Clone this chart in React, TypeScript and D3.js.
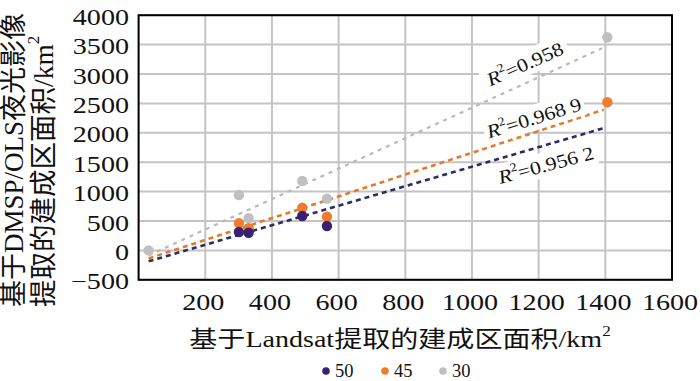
import React from "react";
import * as d3 from "d3";

// ---- data ----
const xTicks = [200, 400, 600, 800, 1000, 1200, 1400, 1600];
const yTicks = [-500, 0, 500, 1000, 1500, 2000, 2500, 3000, 3500, 4000];
const seriesNames = ["50", "45", "30"];
const seriesColors = ["#3b2173", "#ee7d30", "#c0c0c0"];
const lineColors = ["#2e2a66", "#e5792d", "#b9b9b9"];
const points50: [number, number][] = [[301, 312], [330, 300], [491, 585], [565, 415]];
const points45: [number, number][] = [[301, 461], [330, 376], [491, 726], [565, 573], [1406, 2519]];
const points30: [number, number][] = [[30, 0], [301, 942], [330, 546], [491, 1180], [565, 880], [1406, 3624]];
const trendSlopes = [1.66, 1.852, 2.59];
const trendIntercepts = [-236, -192, -163];
const trendStart = [30, 30, 30];
const trendEnd = [1395, 1395, 1390];
const r2Labels = ["0.956 2", "0.968 9", "0.958"];

const W = 700, H = 381;
const x = d3.scaleLinear().domain([0, 1600]).range([138.6, 672]);
const y = d3.scaleLinear().domain([-500, 4000]).range([279.8, 15.2]);
const serif = "'Liberation Serif', 'Times New Roman', 'Noto Sans CJK SC', serif";
const SX = 1.25;

export default function App() {
  const allPoints = [points50, points45, points30];
  const line = d3.line<[number, number]>().x(d => x(d[0])).y(d => y(d[1]));
  const labelPos = [
    { cx: 546, cy: 165, ang: -15, w: 104 },
    { cx: 534, cy: 118, ang: -17, w: 104 },
    { cx: 525, cy: 64, ang: -24, w: 92 },
  ];
  const legendX = [326, 385, 443];
  const drawOrder = [2, 1, 0];
  return (
    <svg width={W} height={H} style={{ position: "absolute", left: 0, top: 0, background: "#fff" }}>
      <rect x={0} y={0} width={W} height={H} fill="#fff" />
      {/* grid */}
      {xTicks.map(t => (
        <line key={"gx" + t} x1={x(t)} x2={x(t)} y1={y(4000)} y2={y(-500)} stroke="#c4c4c4" strokeWidth={2} />
      ))}
      {yTicks.map(t => (
        <line key={"gy" + t} x1={x(0)} x2={x(1600)} y1={y(t)} y2={y(t)} stroke="#c4c4c4" strokeWidth={2} />
      ))}
      {/* trend lines */}
      {drawOrder.map(i => {
        const pts: [number, number][] = [
          [trendStart[i], trendSlopes[i] * trendStart[i] + trendIntercepts[i]],
          [trendEnd[i], trendSlopes[i] * trendEnd[i] + trendIntercepts[i]],
        ];
        return (
          <path key={"t" + i} d={line(pts) || ""} fill="none" stroke={lineColors[i]}
            strokeWidth={i === 2 ? 2.2 : 2.6} strokeDasharray={i === 2 ? "4,5" : "5,4"} />
        );
      })}
      {/* R2 labels */}
      {labelPos.map((p, i) => (
        <g key={"r" + i} transform={`translate(${p.cx},${p.cy}) rotate(${p.ang})`}>
          <rect x={-p.w / 2} y={-13} width={p.w} height={25} fill="#fff" />
          <text transform="scale(1.15,1)" textAnchor="middle" dominantBaseline="central" fontFamily={serif} fontSize={19} fill="#111">
            <tspan fontStyle="italic">R</tspan>
            <tspan fontSize={12} dy={-7}>2</tspan>
            <tspan dy={7}>{"=" + r2Labels[i]}</tspan>
          </text>
        </g>
      ))}
      {/* points */}
      {drawOrder.map(i => (
        <g key={"p" + i}>
          {allPoints[i].map((d, j) => (
            <circle key={j} cx={x(d[0])} cy={y(d[1])} r={5.2} fill={seriesColors[i]} />
          ))}
        </g>
      ))}
      {/* frame */}
      <rect x={x(0)} y={y(4000)} width={x(1600) - x(0)} height={y(-500) - y(4000)} fill="none" stroke="#000" strokeWidth={2} />
      {/* y tick labels */}
      {yTicks.map(t => (
        <text key={"yl" + t} transform={`translate(129,${y(t) + 2}) scale(${SX},1)`} textAnchor="end"
          dominantBaseline="central" fontFamily={serif} fontSize={22.5} fill="#111">
          {t < 0 ? "\u2212" + Math.abs(t) : String(t)}
        </text>
      ))}
      {/* x tick labels */}
      {xTicks.map(t => (
        <text key={"xl" + t} transform={`translate(${x(t) - 2},${302}) scale(${SX},1)`} textAnchor="middle"
          dominantBaseline="central" fontFamily={serif} fontSize={22.5} fill="#111">
          {String(t)}
        </text>
      ))}
      {/* x title */}
      <text transform={`translate(400,339) scale(1.22,1)`} textAnchor="middle" dominantBaseline="central"
        fontFamily={serif} fontSize={23} fill="#111">
        基于Landsat提取的建成区面积/km<tspan fontSize={14} dy={-8}>2</tspan>
      </text>
      {/* y title */}
      <text transform="translate(14,307) rotate(-90)" textAnchor="start" dominantBaseline="central"
        fontFamily={serif} fontSize={27} fill="#111">
        基于DMSP/OLS夜光影像
      </text>
      <text transform="translate(43,307) rotate(-90)" textAnchor="start" dominantBaseline="central"
        fontFamily={serif} fontSize={27.5} fill="#111">
        提取的建成区面积/km<tspan fontSize={17} dy={-10}>2</tspan>
      </text>
      {/* legend */}
      {seriesNames.map((n, i) => (
        <g key={"lg" + i}>
          <circle cx={legendX[i]} cy={371} r={3.8} fill={seriesColors[i]} />
          <text x={legendX[i] + 9} y={377} fontFamily={serif} fontSize={18.5} fill="#111">{n}</text>
        </g>
      ))}
    </svg>
  );
}
